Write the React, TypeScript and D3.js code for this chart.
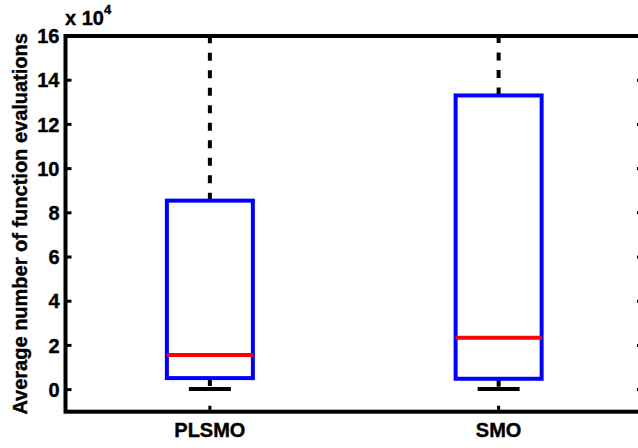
import React, { useEffect, useRef } from "react";
import * as d3 from "d3";

// box plot values, in units of 10^4
const categories = ["PLSMO", "SMO"];
const lowerWhisker = [0.03, 0.03];
const q1 = [0.52, 0.49];
const medians = [1.57, 2.35];
const q3 = [8.55, 13.31];
const upperWhisker = [17.5, 17.5]; // runs past the top of the axes
const yTicks = [0, 2, 4, 6, 8, 10, 12, 14, 16];

const W = 638, H = 448;
const FONT = "'Liberation Sans', Arial, Helvetica, sans-serif";

export default function App() {
    const ref = useRef<SVGSVGElement>(null);

    useEffect(() => {
        const svg = d3.select(ref.current);
        svg.selectAll("*").remove();

        const left = 65.5, right = 643, top = 36, bottom = 411.7;

        const x = d3.scaleLinear().domain([0.5, 2.5]).range([left, right]);
        const y = d3.scaleLinear().domain([-1, 16]).range([bottom, top]);

        svg.append("defs").append("clipPath").attr("id", "plotclip")
            .append("rect")
            .attr("x", left).attr("y", top)
            .attr("width", right - left).attr("height", bottom - top);

        const g = svg.append("g").attr("clip-path", "url(#plotclip)");

        const halfBox = 43;
        const halfCap = 21;

        categories.forEach((c, i) => {
            const cx = x(i + 1);

            // whiskers (dashed, starting at the box edge)
            g.append("line")
                .attr("x1", cx).attr("x2", cx)
                .attr("y1", y(q3[i])).attr("y2", y(upperWhisker[i]))
                .attr("stroke", "#000").attr("stroke-width", 4)
                .attr("stroke-dasharray", "8,9.5");
            g.append("line")
                .attr("x1", cx).attr("x2", cx)
                .attr("y1", y(q1[i])).attr("y2", y(lowerWhisker[i]))
                .attr("stroke", "#000").attr("stroke-width", 4)
                .attr("stroke-dasharray", "8,9.5");

            // whisker caps
            [lowerWhisker[i], upperWhisker[i]].forEach(v => {
                g.append("line")
                    .attr("x1", cx - halfCap).attr("x2", cx + halfCap)
                    .attr("y1", y(v)).attr("y2", y(v))
                    .attr("stroke", "#000").attr("stroke-width", 4);
            });

            // box
            g.append("rect")
                .attr("x", cx - halfBox).attr("y", y(q3[i]))
                .attr("width", halfBox * 2).attr("height", y(q1[i]) - y(q3[i]))
                .attr("fill", "none").attr("stroke", "#0000ff").attr("stroke-width", 4);

            // median
            g.append("line")
                .attr("x1", cx - halfBox).attr("x2", cx + halfBox)
                .attr("y1", y(medians[i])).attr("y2", y(medians[i]))
                .attr("stroke", "#ff0000").attr("stroke-width", 4);
        });

        // axes box
        svg.append("rect")
            .attr("x", left).attr("y", top)
            .attr("width", right - left).attr("height", bottom - top)
            .attr("fill", "none").attr("stroke", "#000").attr("stroke-width", 4);

        const label = (sel: any, size: number) =>
            sel.style("font-family", FONT).style("font-weight", "bold").style("font-size", size + "px")
                .attr("stroke", "#000").attr("stroke-width", 0.4);

        // y ticks, left and right
        yTicks.forEach(t => {
            svg.append("line")
                .attr("x1", left).attr("x2", left + 6)
                .attr("y1", y(t)).attr("y2", y(t))
                .attr("stroke", "#000").attr("stroke-width", 3);
            svg.append("line")
                .attr("x1", right - 6).attr("x2", right)
                .attr("y1", y(t)).attr("y2", y(t))
                .attr("stroke", "#000").attr("stroke-width", 3);
            label(svg.append("text")
                .attr("x", 59.5).attr("y", y(t)).attr("dy", "0.36em")
                .attr("text-anchor", "end"), 20)
                .text(t);
        });

        // x ticks and labels
        categories.forEach((c, i) => {
            svg.append("line")
                .attr("x1", x(i + 1)).attr("x2", x(i + 1))
                .attr("y1", bottom).attr("y2", bottom - 6)
                .attr("stroke", "#000").attr("stroke-width", 3);
            label(svg.append("text")
                .attr("x", x(i + 1)).attr("y", 437)
                .attr("text-anchor", "middle"), 20)
                .text(c);
        });

        // exponent label
        const ex = label(svg.append("text").attr("x", 65).attr("y", 25), 20);
        ex.append("tspan").text("x 10");
        ex.append("tspan").attr("dy", -11).style("font-size", "13px").text("4");

        // y axis label
        label(svg.append("text")
            .attr("transform", `translate(27, ${(top + bottom) / 2}) rotate(-90)`)
            .attr("text-anchor", "middle"), 20)
            .text("Average number of function evaluations");
    }, []);

    return (
        <svg ref={ref} width={W} height={H}
            style={{ position: "absolute", left: 0, top: 0, background: "#fff" }} />
    );
}
